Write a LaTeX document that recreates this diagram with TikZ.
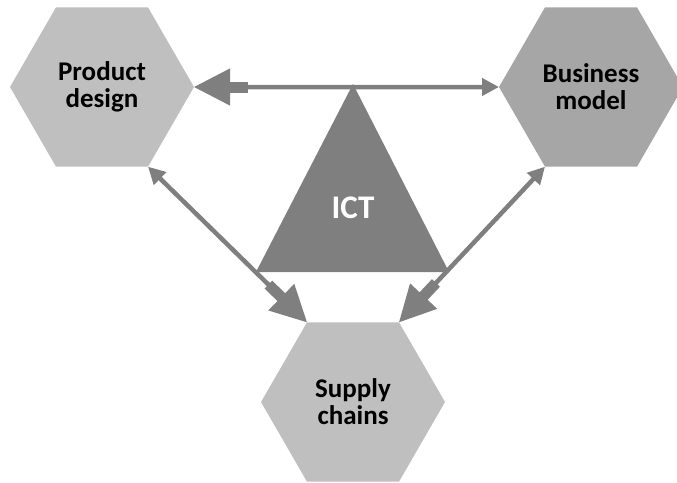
\documentclass[tikz,border=0pt]{standalone}
\usepackage{fontspec}
\setmainfont{Carlito}
\usetikzlibrary{shapes.geometric,arrows.meta,calc}
\definecolor{lightgrey}{RGB}{191,191,191}
\definecolor{midgrey}{RGB}{166,166,166}
\definecolor{darkgrey}{RGB}{127,127,127}
\begin{document}
\begin{tikzpicture}[x=1pt,y=-1pt]
    \tikzstyle{hexa}=[regular polygon, regular polygon sides=6, minimum size=184pt, inner sep=0pt, outer sep=0pt, align=center, font=\fontsize{27}{27}\selectfont\bfseries]
    \tikzstyle{link}=[draw=darkgrey, line width=4.5pt]
    \tikzstyle{stub}=[draw=darkgrey, line width=11pt]
    \clip (0,0) rectangle (677,482);
    \node[hexa, fill=lightgrey] (pd) at (102,87) {Product\\design};
    \node[hexa, fill=midgrey] (bm) at (591,87) {Business\\model};
    \node[hexa, fill=lightgrey] (sc) at (353,402) {Supply\\chains};
    % ICT triangle
    \fill[darkgrey] (353,84) -- (449,272) -- (256,272) -- cycle;
    \node[text=white, font=\fontsize{33}{33}\selectfont\bfseries] (ict) at (353,208) {ICT};
    \draw[link, {Triangle[length=36pt,width=36pt]}-{Triangle[length=17pt,width=17pt]}] (pd.east) -- (bm.west);
    \draw[stub] ($(pd.east)!34pt!(bm.west)$) -- ($(pd.east)!54pt!(bm.west)$);
    \draw[link, {Triangle[length=17pt,width=17pt]}-{Triangle[length=36pt,width=36pt]}] (pd.-60) -- (sc.120);
    \draw[stub] ($(sc.120)!34pt!(pd.-60)$) -- ($(sc.120)!54pt!(pd.-60)$);
    \draw[link, {Triangle[length=17pt,width=17pt]}-{Triangle[length=36pt,width=36pt]}] (bm.240) -- (sc.60);
    \draw[stub] ($(sc.60)!34pt!(bm.240)$) -- ($(sc.60)!54pt!(bm.240)$);
\end{tikzpicture}
\end{document}
